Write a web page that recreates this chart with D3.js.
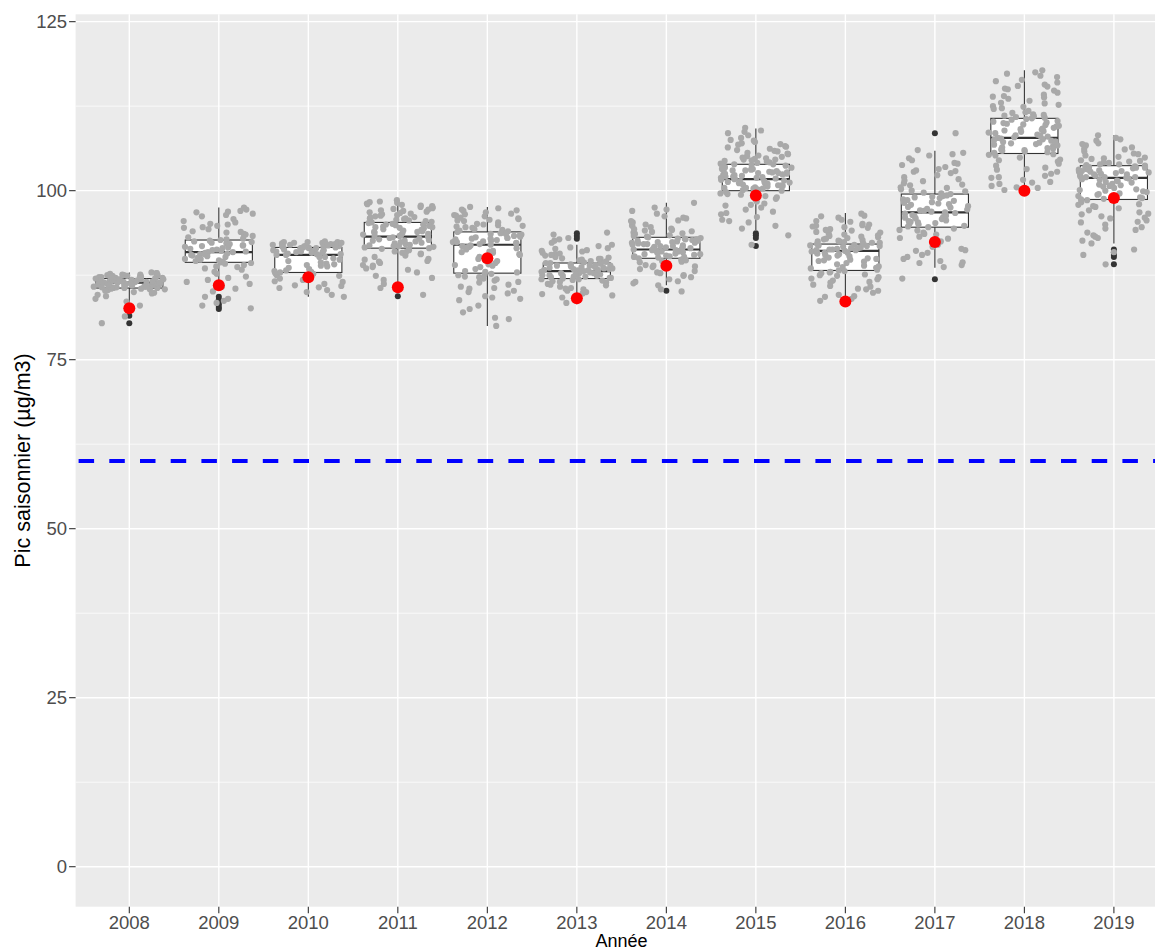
<!DOCTYPE html>
<html>
<head>
<meta charset="utf-8">
<script src="https://cdn.jsdelivr.net/npm/d3@7/dist/d3.min.js"></script>
<style>
  html, body { margin: 0; padding: 0; background: #ffffff; }
  svg { display: block; }
  text { font-family: "Liberation Sans", Arial, sans-serif; }
</style>
</head>
<body>
<svg id="chart" width="1155" height="951"></svg>
<script>
// Seasonal peak per year: boxplot summary, individual values, and reference value
const years = ["2008","2009","2010","2011","2012","2013","2014","2015","2016","2017","2018","2019"];

const q1      = [85.6, 89.4, 87.9, 91.5, 87.8, 87.0, 90.0, 100.0, 88.2, 94.6, 105.5, 98.7];
const medians = [86.4, 90.9, 90.5, 93.2, 92.0, 88.1, 91.3, 101.7, 91.1, 96.8, 107.8, 101.9];
const q3      = [87.0, 92.7, 91.6, 95.3, 93.9, 89.3, 93.1, 103.9, 92.1, 99.5, 110.7, 103.7];
const whiskerLow  = [83.5, 85.5, 84.3, 85.1, 80.0, 83.2, 86.0, 94.2, 83.5, 88.6, 100.0, 92.2];
const whiskerHigh = [87.9, 97.5, 92.5, 98.5, 97.6, 92.0, 98.2, 109.2, 96.7, 105.9, 117.8, 108.2];

const outliers = [
  [81.5, 80.4],
  [84.3, 83.9, 83.6, 83.2, 82.8, 82.5],
  [],
  [84.4],
  [],
  [93.7, 93.3, 92.9],
  [85.2],
  [93.7, 93.4, 93.0, 91.8],
  [],
  [108.5, 86.9],
  [],
  [91.3, 90.9, 90.5, 90.2, 89.1]
];

// Reference value for each season (red marker)
const reference = [82.6, 86.0, 87.2, 85.7, 90.0, 84.1, 88.9, 99.3, 83.6, 92.4, 100.0, 98.9];

// Regulatory threshold
const threshold = 60;

const yTicks = [0, 25, 50, 75, 100, 125];

// Individual station values per season
const pts2008 = [87.9,87.8,87.6,87.5,87.5,87.4,87.3,87.3,87.2,87.1,87.1,87.0,87.0,86.9,86.9,86.8,86.8,86.7,86.7,86.6,86.6,86.5,86.5,86.4,86.4,86.4,86.3,86.3,86.2,86.2,86.1,86.0,86.0,85.9,85.9,85.8,85.7,85.7,85.6,85.6,85.5,85.4,85.3,85.2,85.0,84.8,84.6,84.4,84.0,83.6,83.0,82.8,81.4,80.4,87.6,87.2,86.9,86.5,86.1,85.8,87.4,86.7,86.2,85.5,87.0,86.6,87.7,86.3,85.9,87.1,
  87.3,86.8,86.4,86.0,85.7,87.5,86.9,86.2,85.4,87.8,86.5,85.8,87.0,86.1,84.9,86.6,87.2,85.6];
const pts2009 = [97.5,97.2,96.9,96.8,96.6,96.2,95.8,95.5,95.3,95.1,94.8,94.5,94.3,94.0,93.8,93.6,93.3,93.1,92.9,92.7,92.6,92.5,92.3,92.2,92.0,91.9,91.8,91.6,91.5,91.3,91.2,91.0,90.9,90.9,90.8,90.6,90.5,90.3,90.2,90.0,89.9,89.8,89.6,89.5,89.4,89.2,89.0,88.7,88.3,88.0,87.7,87.3,86.8,86.5,86.2,85.8,85.5,84.3,84.0,83.7,83.4,83.0,82.6,92.4,91.4,90.4,89.7,93.5,94.6,88.5,
  91.7,90.7,89.9,92.8,91.1,90.1,92.1,89.3,96.4,95.0,93.9,91.9,90.6,88.8,87.1,85.1,97.0];
const pts2010 = [92.5,92.4,92.4,92.3,92.2,92.2,92.1,92.0,92.0,91.9,91.9,91.8,91.8,91.7,91.7,91.6,91.5,91.5,91.4,91.3,91.2,91.1,91.0,90.9,90.8,90.7,90.6,90.5,90.5,90.4,90.2,90.0,89.8,89.6,89.4,89.2,89.0,88.8,88.6,88.4,88.2,88.0,87.9,87.7,87.5,87.3,87.0,86.8,86.5,86.2,85.9,85.6,85.3,85.0,84.6,84.3,92.3,91.9,91.6,91.2,90.9,88.9,87.8,86.6,
  92.3,92.1,91.8,91.5,91.0,90.2,89.1,87.4,86.0,92.4,91.6,90.6,88.1,85.7];
const pts2011 = [98.6,98.4,98.3,98.1,98.0,97.9,97.7,97.6,97.4,97.3,97.1,97.0,96.8,96.7,96.5,96.4,96.2,96.1,95.9,95.8,95.6,95.5,95.4,95.2,95.1,95.0,94.9,94.7,94.6,94.5,94.3,94.2,94.1,93.9,93.8,93.7,93.5,93.4,93.3,93.2,93.1,93.0,92.9,92.7,92.6,92.5,92.3,92.2,92.1,91.9,91.8,91.7,91.5,91.4,91.2,91.0,90.8,90.6,90.4,90.2,89.9,89.6,89.3,89.0,88.7,88.3,87.9,87.4,86.8,86.2,85.6,84.6,97.8,96.9,96.0,95.3,94.4,93.6,92.8,92.0,91.6,90.9,89.8,88.5,
  98.2,97.5,96.6,95.7,95.0,94.8,94.0,93.3,92.4,91.8,91.3,90.7,89.5,97.2,96.3,93.9,92.6,94.6,95.9,88.9,87.1];
const pts2012 = [97.6,97.4,97.2,97.0,96.8,96.6,96.4,96.2,96.0,95.8,95.6,95.5,95.3,95.1,95.0,94.8,94.6,94.5,94.3,94.2,94.0,93.9,93.8,93.7,93.6,93.5,93.4,93.3,93.2,93.1,93.0,92.9,92.8,92.6,92.5,92.4,92.2,92.1,92.0,91.9,91.7,91.5,91.3,91.0,90.8,90.5,90.2,89.9,89.6,89.3,89.0,88.7,88.4,88.1,87.9,87.7,87.5,87.2,87.0,86.7,86.4,86.1,85.8,85.5,85.2,84.8,84.4,84.0,83.0,82.5,81.2,81.0,80.0,95.9,94.7,93.6,92.7,91.8,90.6,89.1,87.6,86.5,85.0,83.8,
  97.1,96.5,95.7,94.9,94.1,93.4,92.9,92.3,91.6,90.9,89.7,88.9,88.0,86.9,85.6,84.2,82.0,96.3,93.0,92.4,91.1,87.3];
const pts2013 = [93.8,93.5,93.0,92.6,92.3,92.0,91.8,91.6,91.4,91.2,91.0,90.8,90.6,90.4,90.2,90.0,89.9,89.7,89.6,89.5,89.4,89.3,89.2,89.1,89.0,88.9,88.8,88.7,88.6,88.5,88.4,88.3,88.2,88.1,88.1,88.0,87.9,87.8,87.7,87.6,87.5,87.4,87.3,87.2,87.1,87.0,86.9,86.8,86.6,86.4,86.2,86.0,85.8,85.6,85.4,85.2,85.0,84.8,84.5,84.2,83.8,83.4,89.8,89.3,88.9,88.6,88.3,87.9,87.6,87.3,86.9,86.5,90.5,91.1,88.0,
  92.8,91.5,90.7,89.9,89.5,89.0,88.7,88.4,88.2,87.8,87.5,87.1,86.7,86.1,85.5,84.7,90.1,88.9,88.5,87.4];
const pts2014 = [98.2,97.5,97.0,96.6,96.2,95.9,95.6,95.3,95.0,94.8,94.6,94.4,94.2,94.0,93.8,93.6,93.5,93.3,93.2,93.1,93.0,92.9,92.8,92.7,92.6,92.5,92.4,92.3,92.2,92.1,92.0,91.9,91.8,91.7,91.6,91.5,91.4,91.3,91.2,91.1,91.0,90.9,90.8,90.7,90.6,90.5,90.4,90.3,90.2,90.1,90.0,89.8,89.6,89.4,89.2,89.0,88.7,88.4,88.1,87.8,87.5,87.2,86.9,86.6,86.3,86.0,85.4,85.1,96.0,94.9,93.9,92.9,92.3,91.6,90.9,90.2,89.5,88.8,87.9,
  97.2,95.5,94.3,93.7,93.4,92.8,92.6,92.1,91.8,91.4,91.0,90.6,90.3,89.7,88.9,87.4,86.5,94.1,92.4,91.2];
const pts2015 = [109.3,108.9,108.5,108.2,107.8,107.5,107.2,107.0,106.8,106.6,106.4,106.2,106.0,105.8,105.6,105.4,105.2,105.0,104.8,104.7,104.5,104.4,104.2,104.1,104.0,103.9,103.8,103.6,103.5,103.4,103.3,103.2,103.1,103.0,102.9,102.8,102.7,102.6,102.5,102.4,102.3,102.2,102.1,102.0,101.9,101.8,101.7,101.6,101.5,101.4,101.3,101.2,101.1,101.0,100.9,100.8,100.7,100.6,100.5,100.4,100.3,100.2,100.1,100.0,99.8,99.6,99.4,99.2,99.0,98.7,98.4,98.1,97.8,97.5,97.2,96.9,96.5,96.1,95.7,95.3,94.8,94.4,93.4,92.0,105.5,104.6,103.7,102.6,101.9,101.0,100.4,103.2,102.1,
  108.7,107.4,106.5,105.9,105.1,104.6,104.3,103.9,103.5,103.0,102.7,102.3,101.8,101.4,101.1,100.8,100.3,99.5,98.8,97.9,96.7,95.5,106.9,104.9,102.5];
const pts2016 = [96.6,96.3,96.0,95.7,95.4,95.1,94.9,94.7,94.5,94.3,94.1,93.9,93.7,93.5,93.3,93.1,92.9,92.7,92.5,92.4,92.3,92.2,92.1,92.0,91.9,91.8,91.7,91.6,91.5,91.4,91.3,91.2,91.1,91.0,90.9,90.8,90.7,90.5,90.3,90.1,89.9,89.7,89.5,89.3,89.1,88.9,88.7,88.5,88.3,88.2,88.0,87.8,87.6,87.4,87.2,87.0,86.7,86.4,86.1,85.8,85.5,85.2,84.9,84.6,84.3,84.0,83.7,95.0,94.2,93.4,92.6,91.9,91.3,90.6,89.8,88.8,87.9,86.9,85.9,92.8,93.0,
  96.2,95.5,94.6,93.8,93.2,92.5,92.1,91.8,91.5,91.2,90.8,90.4,89.6,88.6,88.1,87.5,86.5,85.4,84.4,94.8,92.3,90.0];
const pts2017 = [108.5,106.0,105.6,105.2,104.8,104.5,104.1,103.8,103.5,103.2,102.9,102.6,102.3,102.0,101.7,101.4,101.1,100.8,100.5,100.2,99.9,99.7,99.5,99.3,99.1,98.9,98.7,98.5,98.3,98.1,97.9,97.7,97.5,97.3,97.1,96.9,96.8,96.6,96.4,96.2,96.0,95.8,95.6,95.4,95.2,95.0,94.8,94.6,94.4,94.1,93.8,93.5,93.2,92.9,92.6,92.3,92.0,91.7,91.4,91.1,90.8,90.5,90.2,89.9,89.6,89.3,89.0,88.7,87.0,98.0,97.0,96.1,95.3,99.0,100.0,94.2,93.0,
  105.4,104.0,102.8,101.5,100.4,99.6,99.2,98.6,98.2,97.6,97.2,96.7,96.3,95.9,95.5,95.1,94.7,93.6,92.5,91.2,89.4,103.0,100.9];
const pts2018 = [117.8,117.5,117.0,116.8,116.4,116.0,115.7,115.4,115.1,114.8,114.5,114.2,113.9,113.6,113.3,113.0,112.7,112.4,112.1,111.8,111.5,111.3,111.1,110.9,110.7,110.5,110.3,110.1,109.9,109.7,109.5,109.3,109.1,108.9,108.7,108.5,108.3,108.1,107.9,107.8,107.6,107.4,107.2,107.0,106.8,106.6,106.4,106.2,106.0,105.8,105.6,105.4,105.2,104.9,104.6,104.3,104.0,103.7,103.4,103.1,102.8,102.5,102.2,101.9,101.6,101.3,101.0,100.7,100.4,100.1,110.8,109.8,108.8,107.7,106.9,106.1,108.2,109.2,110.2,111.0,112.9,114.0,105.9,107.3,
  117.3,116.2,115.0,113.8,112.5,111.6,111.2,110.6,110.0,109.6,109.0,108.6,108.0,107.5,107.1,106.7,106.3,105.7,105.3,104.5,103.2,102.0,101.2,100.5,115.5,112.2];
const pts2019 = [108.2,107.8,107.4,107.0,106.7,106.4,106.1,105.8,105.5,105.2,104.9,104.7,104.5,104.3,104.1,103.9,103.8,103.7,103.6,103.5,103.4,103.3,103.2,103.1,103.0,102.9,102.8,102.7,102.6,102.5,102.4,102.3,102.2,102.1,102.0,101.9,101.8,101.6,101.4,101.2,101.0,100.8,100.6,100.4,100.2,100.0,99.8,99.6,99.4,99.2,99.0,98.8,98.6,98.3,98.0,97.7,97.4,97.1,96.8,96.5,96.2,95.9,95.6,95.3,95.0,94.6,94.2,93.8,93.4,93.0,92.6,92.2,91.3,90.9,90.5,89.1,104.4,103.6,102.9,102.0,101.5,100.9,99.9,98.9,97.9,96.0,
  107.6,106.9,106.2,105.4,104.8,104.2,103.9,103.5,103.1,102.8,102.4,102.0,101.7,101.3,100.7,100.1,99.5,98.7,97.6,96.6,95.4,94.4,93.2,105.0,103.4];

const pointsByYear = [pts2008, pts2009, pts2010, pts2011, pts2012, pts2013, pts2014, pts2015, pts2016, pts2017, pts2018, pts2019];

// ---- Layout ----
const svg = d3.select("#chart");
const panel = { left: 75.6, right: 1167.6, top: 14.3, bottom: 906.7 };

const x = d3.scalePoint()
  .domain(years)
  .range([panel.left, panel.right])
  .padding(0.6);

const y = d3.scaleLinear()
  .domain([-5.917, 126.09])
  .range([panel.bottom, panel.top]);

const step = x.step();
const boxWidth = step * 0.75;
const jitterWidth = step * 0.4;

// Panel background
svg.append("rect")
  .attr("x", panel.left).attr("y", panel.top)
  .attr("width", panel.right - panel.left)
  .attr("height", panel.bottom - panel.top)
  .attr("fill", "#EBEBEB");

const grid = svg.append("g");
// Minor horizontal grid
const minorY = d3.range(-1, yTicks.length).map(i => (i + 0.5) * 25)
  .filter(v => v > y.domain()[0] && v < y.domain()[1]);
grid.selectAll("line.minor").data(minorY).join("line")
  .attr("x1", panel.left).attr("x2", panel.right)
  .attr("y1", d => y(d)).attr("y2", d => y(d))
  .attr("stroke", "#ffffff").attr("stroke-width", 0.7);
// Major horizontal grid
grid.selectAll("line.majorY").data(yTicks).join("line")
  .attr("x1", panel.left).attr("x2", panel.right)
  .attr("y1", d => y(d)).attr("y2", d => y(d))
  .attr("stroke", "#ffffff").attr("stroke-width", 1.4);
// Major vertical grid
grid.selectAll("line.majorX").data(years).join("line")
  .attr("class", "majorX")
  .attr("x1", d => x(d)).attr("x2", d => x(d))
  .attr("y1", panel.top).attr("y2", panel.bottom)
  .attr("stroke", "#ffffff").attr("stroke-width", 1.4);

// Threshold line
svg.append("line")
  .attr("x1", panel.left).attr("x2", panel.right)
  .attr("y1", y(threshold)).attr("y2", y(threshold))
  .attr("stroke", "#0000FF").attr("stroke-width", 4)
  .attr("stroke-dasharray", "15.5,15.2")
  .attr("stroke-dashoffset", -3);

// ---- Boxplots ----
const boxes = svg.append("g");
const stroke = "#333333";
years.forEach((yr, i) => {
  const cx = x(yr);
  const g = boxes.append("g");
  g.append("line")
    .attr("x1", cx).attr("x2", cx)
    .attr("y1", y(q3[i])).attr("y2", y(whiskerHigh[i]))
    .attr("stroke", stroke).attr("stroke-width", 1.1);
  g.append("line")
    .attr("x1", cx).attr("x2", cx)
    .attr("y1", y(q1[i])).attr("y2", y(whiskerLow[i]))
    .attr("stroke", stroke).attr("stroke-width", 1.1);
  g.append("rect")
    .attr("x", cx - boxWidth / 2).attr("width", boxWidth)
    .attr("y", y(q3[i])).attr("height", y(q1[i]) - y(q3[i]))
    .attr("fill", "#ffffff").attr("stroke", stroke).attr("stroke-width", 1.1);
  g.append("line")
    .attr("x1", cx - boxWidth / 2).attr("x2", cx + boxWidth / 2)
    .attr("y1", y(medians[i])).attr("y2", y(medians[i]))
    .attr("stroke", stroke).attr("stroke-width", 2.2);
  g.selectAll("circle").data(outliers[i]).join("circle")
    .attr("cx", cx).attr("cy", d => y(d)).attr("r", 3)
    .attr("fill", stroke);
});

// ---- Jittered values ----
// deterministic horizontal spread so every render is identical
function spread(i, k) {
  const s = Math.sin(i * 12.9898 + k * 78.233 + 1.7) * 43758.5453;
  return (s - Math.floor(s)) * 2 - 1;
}
const jitter = svg.append("g");
years.forEach((yr, k) => {
  jitter.selectAll(null).data(pointsByYear[k]).join("circle")
    .attr("cx", (d, i) => x(yr) + spread(i, k) * jitterWidth)
    .attr("cy", d => y(d))
    .attr("r", 3.1)
    .attr("fill", "#A9A9A9");
});

// ---- Reference values ----
svg.append("g").selectAll("circle").data(reference).join("circle")
  .attr("cx", (d, i) => x(years[i]))
  .attr("cy", d => y(d))
  .attr("r", 6)
  .attr("fill", "#FF0000");

// ---- Axes ----
const axisColor = "#333333";
const tickColor = "#4D4D4D";

const yAxis = svg.append("g");
yAxis.selectAll("line").data(yTicks).join("line")
  .attr("x1", panel.left - 6.5).attr("x2", panel.left)
  .attr("y1", d => y(d)).attr("y2", d => y(d))
  .attr("stroke", axisColor).attr("stroke-width", 1.1);
yAxis.selectAll("text").data(yTicks).join("text")
  .attr("x", panel.left - 8.5)
  .attr("y", d => y(d))
  .attr("dy", "0.36em")
  .attr("text-anchor", "end")
  .attr("font-size", 18.5)
  .attr("fill", tickColor)
  .text(d => d);

const xAxis = svg.append("g");
xAxis.selectAll("line").data(years).join("line")
  .attr("x1", d => x(d)).attr("x2", d => x(d))
  .attr("y1", panel.bottom).attr("y2", panel.bottom + 6.5)
  .attr("stroke", axisColor).attr("stroke-width", 1.1);
xAxis.selectAll("text").data(years).join("text")
  .attr("x", d => x(d))
  .attr("y", 928.5)
  .attr("text-anchor", "middle")
  .attr("font-size", 18.5)
  .attr("fill", tickColor)
  .text(d => d);

// Axis titles
svg.append("text")
  .attr("transform", `translate(30, ${(panel.top + panel.bottom) / 2}) rotate(-90)`)
  .attr("text-anchor", "middle")
  .attr("font-size", 21.5)
  .attr("fill", "#000000")
  .text("Pic saisonnier (µg/m3)");

svg.append("text")
  .attr("x", (panel.left + panel.right) / 2)
  .attr("y", 946.5)
  .attr("text-anchor", "middle")
  .attr("font-size", 18)
  .attr("fill", "#000000")
  .text("Année");
</script>
</body>
</html>
